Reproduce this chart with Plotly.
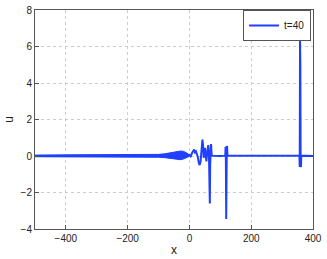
import plotly.graph_objects as go

# Stützpunkte der Kurve u(x) bei t=40
x_vals = [-500, -300, -200, -100, -50, -20, -4,
          0, 4, 8, 12, 15, 18, 21, 24, 27, 30, 33, 36, 39, 42, 44, 46, 48,
          50, 52, 55, 58, 61, 63, 65, 66, 67, 68, 70, 72, 75,
          100, 116, 117, 118, 119, 120, 121, 122, 123, 200, 300, 356,
          357, 358, 359, 360, 361, 362, 400]
u_vals = [0.0, 0.01, 0.01, 0.01, 0.02, 0.04, 0.04,
          0.06, -0.02, 0.15, 0.30, 0.35, 0.20, 0.25, 0.10, -0.05, -0.35,
          -0.50, -0.30, 0.20, 0.90, 0.60, -0.10, 0.20, 0.45, 0.10, -0.30,
          0.30, 0.60, 0.20, -1.20, -2.60, -0.50, 0.60, 0.65, 0.05, 0.02,
          0.0, 0.02, 0.50, -0.30, -3.45, 0.0, 0.55, 0.50, 0.02, 0.0, 0.01,
          0.02, -0.60, 6.30, 5.00, -0.55, -0.60, 0.02, 0.0]

# Hüllkurve des schnell oszillierenden Bereichs links von x=0
x_env = [-500, -300, -200, -150, -100, -80, -60, -50, -40, -30, -20, -10, 0]
u_hi = [0.05, 0.05, 0.06, 0.07, 0.09, 0.12, 0.16, 0.20, 0.24, 0.27, 0.26, 0.18, 0.06]
u_lo = [-0.04, -0.04, -0.04, -0.05, -0.07, -0.09, -0.12, -0.15, -0.18, -0.20, -0.17, -0.10, -0.02]

x_ticks = [-400, -200, 0, 200, 400]
y_ticks = [-4, -2, 0, 2, 4, 6, 8]

blau = "#2040ff"
font = dict(family="Liberation Sans, Arial, sans-serif", size=10, color="#222")

fig = go.Figure()
fig.add_trace(go.Scatter(  # obere Hülle
    x=x_env, y=u_hi, mode="lines", line=dict(color=blau, width=1),
    showlegend=False, hoverinfo="skip"
))
fig.add_trace(go.Scatter(  # untere Hülle, gefüllt bis zur oberen
    x=x_env, y=u_lo, mode="lines", line=dict(color=blau, width=1),
    fill="tonexty", fillcolor=blau, showlegend=False, hoverinfo="skip"
))
fig.add_trace(go.Scatter(
    x=x_vals, y=u_vals, mode="lines", name="t=40",
    line=dict(color=blau, width=2)
))

achse = dict(
    showline=True, linecolor="#555", linewidth=1, mirror=True,
    ticks="inside", ticklen=4, tickcolor="#555",
    showgrid=True, gridcolor="#cccccc", griddash="dot", gridwidth=1,
    zeroline=False, tickfont=font, automargin=False
)

fig.update_layout(
    width=327, height=259,
    margin=dict(l=35, r=14, t=10, b=30),
    plot_bgcolor="white", paper_bgcolor="white",
    font=font,
    xaxis=dict(range=[-500, 400], tickvals=x_ticks,
               title=dict(text="x", standoff=2), **achse),
    yaxis=dict(range=[-4, 8], tickvals=y_ticks,
               title=dict(text="u", standoff=4), **achse),
    showlegend=True,
    legend=dict(x=0.993, xanchor="right", y=1.0, yanchor="top",
                bgcolor="white", bordercolor="#555", borderwidth=1,
                font=dict(size=10), itemwidth=30,
                tracegroupgap=0),
)

# Seitenrand des Browsers entfernen, damit die Grafik bei (0,0) beginnt
fig.write_html("out.html", config={"displayModeBar": False},
               post_script="document.body.style.margin='0';")
